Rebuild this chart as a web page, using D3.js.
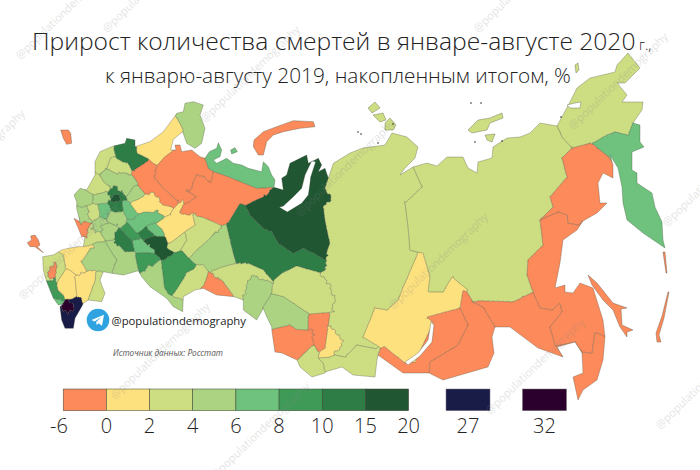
<!DOCTYPE html>
<html><head><meta charset="utf-8">
<script src="https://cdnjs.cloudflare.com/ajax/libs/d3/7.8.5/d3.min.js"></script>
<style>html,body{margin:0;background:#fff}svg{display:block}text{font-family:"Open Sans",sans-serif}</style>
</head><body><svg id="c" width="700" height="470"></svg>
<script>
const titleText="Прирост количества смертей в январе-августе 2020";
const titleSuffix=" г.,";
const subtitleText="к январю-августу 2019, накопленным итогом, %";
const handleText="@populationdemography";
const sourceText="Источник данных: Росстат";
const legendTicks=["-6","0","2","4","6","8","10","15","20"];
const legendClasses=[-3,1,3,5,7,9,12,18];
const outlierTicks=["27","32"];
const outlierValues=[27,32];
const classBreaks=[0,2,4,6,8,10,15,20,30];
const classColors=["#fd8a5a","#fde17e","#cddd82","#abd382","#6ec27d","#3f9a58","#2e7d47","#205632","#1a1c48","#2b002c"];

// Region outlines. West sheet is on a 3x grid, east sheet in picture units.
const westValues=[1,5,7,12,-2,-2,-2,5,3,1,1,3,7,12,7,7,12,18,18,7,9,9,5,3,-1,3,9,5,3,5,3,3,5,5,12,18,5,7,5,12,5,-1,5,5,3,5,3,5,1,3,-1,9,9,7,1,1,3,27,32];
const westShapes=[
"405,140 450,125 490,95 525,48 540,70 548,92 520,118 510,150 490,165 465,195 445,175 412,160",
"525,42 550,35 555,10 580,5 610,15 600,45 615,85 605,130 585,145 560,130 550,90 540,70",
"615,175 628,155 650,145 655,128 665,150 660,170 640,180 650,190 680,175 700,190 725,195 745,205 785,215 790,185 805,200 815,225 825,240 820,262 770,265 720,245 670,225 640,215 625,205",
"340,140 375,130 380,115 405,120 412,160 448,180 400,212 385,190 365,185 345,165",
"395,222 400,212 448,180 465,195 470,215 463,232 490,265 535,305 520,322 490,315 440,280 415,250",
"463,232 470,205 500,175 528,155 525,135 540,135 545,155 575,150 600,170 615,175 625,205 640,215 632,250 610,230 590,225 580,245 575,265 565,275 590,290 560,310 535,305 490,265",
"632,250 640,215 670,225 720,245 770,265 820,262 820,270 795,290 755,305 720,310 685,370 665,375 610,345 580,350 535,335 560,310 590,290 565,275 575,265 580,245 590,225 610,230",
"680,375 695,440 708,490 670,500 630,515 610,495 570,472 590,450 625,420 660,378",
"578,342 610,360 665,378 625,420 590,450 570,472 545,445 560,420 555,395 585,375",
"465,370 500,355 515,335 530,320 550,300 545,325 535,345 578,345 585,375 555,395 510,430 495,405 488,385",
"390,310 420,300 440,285 455,282 490,315 520,322 510,345 465,340 430,325 415,340",
"510,430 555,395 560,420 545,445 525,455 500,445",
"380,360 400,345 430,345 470,335 490,350 470,370 440,370 410,400 385,370",
"680,375 720,310 750,345 790,385 815,395 835,430 880,460 910,445 945,462 975,480 975,510 950,515 890,498 840,520 815,540 790,510 745,490 708,490 695,440",
"365,300 390,310 412,345 385,358 370,335",
"440,385 465,368 495,405 470,410 445,390",
"420,400 440,385 465,405 430,420",
"430,420 470,408 495,415 500,445 522,460 490,480 465,450 445,440",
"745,320 760,305 800,285 820,265 850,270 845,235 860,225 870,190 920,165 925,190 945,180 955,175 965,195 955,215 975,205 985,235 975,265 990,295 970,320 975,365 988,430 975,480 945,462 910,445 880,460 835,430 815,395 790,385 750,345",
"398,422 425,420 465,452 440,458 408,458",
"360,385 385,370 410,400 420,415 395,418 370,400",
"405,460 440,458 480,478 440,515 415,510",
"430,516 480,480 492,560 510,590 530,600 550,610 548,635 520,620 500,595 450,560 425,530",
"585,505 610,495 625,520 610,555 585,570 550,590 525,585 535,560 555,528",
"625,520 650,520 680,560 702,590 650,585 610,565",
"630,515 670,500 710,490 745,490 790,510 815,540 820,550 790,575 730,600 702,590 670,545",
"490,480 525,460 545,458 585,505 550,515 555,528 535,560 510,585 495,565 490,510",
"730,600 755,530 790,545 818,550 815,580 790,620 770,660 730,630",
"818,550 850,520 890,498 950,515 990,560 1000,600 995,635 925,640 895,620 850,590 815,580",
"790,620 815,582 850,590 895,620 925,640 925,690 870,675 815,680 800,650",
"285,185 300,155 340,135 345,165 330,175 320,205 295,225",
"320,205 335,170 365,185 385,190 395,225 370,230 345,220",
"300,225 320,205 345,220 395,225 415,250 405,255 380,290 360,275 330,262 310,245",
"222,285 240,265 265,275 280,285 275,310 245,320 230,305",
"320,285 340,262 370,280 378,295 365,305 370,335 345,335 330,320",
"333,293 355,290 360,302 335,302",
"380,290 405,255 432,285 390,305",
"295,315 310,310 330,320 325,350 310,355 295,335",
"280,285 320,275 330,300 310,310 280,310",
"345,400 360,385 395,425 398,450 375,455 345,425",
"325,340 370,335 380,362 360,385 325,365",
"222,355 240,352 270,375 255,410 245,410 235,385",
"230,325 260,320 275,350 270,365 240,365",
"285,360 310,355 325,370 320,385 295,395 280,385",
"262,320 280,312 295,318 298,340 285,360 270,355",
"308,380 325,368 355,378 345,400 345,420 320,420 305,405",
"260,270 285,225 300,225 310,245 330,262 320,275 280,285 265,275",
"245,485 280,430 315,425 350,480 335,520 300,510 260,510",
"185,450 205,445 220,455 235,440 250,440 280,435 245,485 258,515 240,530 215,505 195,500 190,470",
"128,470 160,465 190,465 197,500 185,520 170,545 145,540 130,510",
"143,525 160,500 168,490 165,510 160,530 150,535",
"140,545 165,540 172,570 160,570",
"155,575 172,570 195,590 185,600 165,595",
"160,595 185,600 190,610 175,615",
"175,545 200,512 225,530 230,590 215,595 195,592 175,570",
"225,530 240,525 258,515 285,515 285,540 265,595 250,610 240,590 230,590",
"290,515 310,520 300,540 305,555 315,580 305,605 265,600 285,545",
"180,620 200,605 215,600 230,590 245,595 245,620 225,655 220,685 195,685 185,660",
"182,617 205,603 222,625 205,635 190,630"
];
const midValues=[3,5];
const midShapes=[
"270,375 285,380 305,405 315,425 290,425 280,432 250,440 250,410",
"315,425 345,420 375,455 405,460 415,512 370,525 335,520 350,480"
];
const eastValues=[3,3,3,7,-2,-2,-2,-2,-2,-2,-2,1,-2,1,-2,3,3];
const eastShapes=[
"328,178 333,165 350,153 363,148 385,145 392,133 407,137 418,147 415,158 405,168 400,175 413,167 422,187 405,203 408,227 410,250 418,253 405,283 398,300 387,310 375,308 363,337 377,348 357,345 345,357 333,352 340,343 328,327 330,313 333,307 330,300 332,290 317,280 325,270 323,260 330,243 325,220 323,207 328,197 325,188",
"413,167 427,163 437,166 447,157 463,157 468,168 477,173 478,162 492,158 493,147 507,138 520,137 530,133 540,123 557,126 562,137 572,148 562,158 567,177 550,197 553,207 540,220 543,245 528,260 527,275 533,292 513,302 480,300 473,302 468,290 452,277 443,292 428,292 430,277 423,253 418,252 410,250 408,227 405,203 422,187",
"557,125 570,102 577,88 590,78 615,72 617,65 628,53 640,68 625,83 617,83 627,95 622,102 643,102 642,110 633,123 628,135 615,132 607,135 593,143 572,148 562,137",
"593,143 607,135 615,132 628,135 633,123 640,125 640,142 644,147 632,152 632,170 637,173 637,183 652,193 655,207 662,222 663,240 665,248 643,233 627,220 623,203 622,187 618,168 610,155 600,150",
"590,143 600,150 613,165 613,178 603,173 598,183 600,203 607,203 597,213 583,221 578,225 568,223 567,215 558,212 540,220 553,207 550,197 567,177 562,158 572,148",
"540,220 558,212 567,215 568,223 578,225 583,221 577,230 563,240 560,263 555,288 565,285 565,292 573,293 580,283 593,288 603,320 605,337 602,335 595,332 592,353 582,352 575,342 555,345 550,327 562,312 560,303 552,310 540,308 533,292 527,275 528,260 543,245",
"582,352 592,353 595,332 602,335 605,337 603,360 597,380 583,390 578,400 573,377 583,373",
"557,347 575,342 582,352 580,355 563,357",
"473,302 513,302 533,292 540,308 552,310 560,303 562,312 550,327 555,345 557,347 563,357 538,348 510,327 495,327 483,307",
"460,308 463,290 473,302 483,307 495,327 492,337 494,353 488,367 443,380 429,373 430,362 458,345 468,325",
"378,355 385,347 405,363 415,362 433,323 427,317 460,308 468,325 458,345 430,362 429,373 403,373",
"418,253 423,253 430,277 428,292 443,292 452,277 468,290 463,290 460,308 427,317 433,323 415,362 405,363 385,347 363,337 375,308 387,310 398,300 405,283",
"308,315 330,313 328,327 325,348 317,350 312,337 308,330",
"330,327 342,343 330,357 318,358 325,348 328,327",
"272,332 290,325 295,332 312,330 313,345 297,360 282,353 275,352",
"298,360 313,345 317,350 318,358 323,363 325,373 312,377 300,367",
"318,358 330,357 345,357 357,345 378,350 377,360 375,377 353,375 342,367 325,372 323,363"
];
// Coast of the mainland: west part on the grid, east part in picture units
const coastWest="285,185 300,155 340,138 375,130 380,115 405,120 405,140 450,125 490,95 525,48 530,40 550,35 555,10 580,5 610,15 600,45 615,85 605,130 585,145 560,130 548,95 520,118 512,150 528,150 525,135 540,135 545,155 575,150 600,170 615,175 628,155 650,145 655,128 665,150 660,170 640,180 650,190 680,175 700,190 725,195 745,205 785,215 790,185 805,200 815,225 825,240 822,262 850,270 845,235 860,225 870,190 920,165 925,190 945,180 955,175 965,195 955,215 975,205 985,235 1000,190";
const coastEast="350,153 363,148 385,145 392,133 407,137 418,147 415,158 405,168 400,175 413,167 427,163 437,166 447,157 463,157 468,168 477,173 478,162 492,158 493,147 507,138 520,137 530,133 540,123 557,126 570,102 577,88 590,78 615,72 617,65 628,53 640,68 625,83 617,83 627,95 622,102 643,102 642,110 633,123 640,125 640,142 644,147 632,152 632,170 637,173 637,183 652,193 655,207 662,222 663,240 665,248 643,233 627,220 623,203 622,187 618,168 610,155 613,165 613,178 603,173 598,183 600,203 607,203 597,213 583,221 577,230 563,240 560,263 555,288 565,285 565,292 573,293 580,283 593,288 603,320 605,337 603,360 597,380 583,390 578,400 573,377 583,373 582,353 575,342 557,347 563,357 538,348 510,327 495,327 492,337 494,353 488,367 443,380 429,373 403,373 378,355 377,360 375,377 353,375 342,367 325,372 325,373 312,377 300,367 297,360 282,353 275,352 272,332";
const coastSouth="815,680 800,650 790,625 770,660 730,630 730,600 702,590 650,585 610,565 585,570 550,590 548,635 520,620 500,595 450,560 425,530 415,512 370,525 335,520 310,515 300,540 305,555 315,580 305,605 265,600 250,610 245,620 225,655 220,685 195,685 185,660 180,620 190,612 175,615 160,595 140,545 130,510 128,470 160,465 185,450 205,445 235,440 250,440 255,410 245,410 235,385 222,355 240,365 230,325 230,305 222,285 240,265 260,270 285,225";
// Islands
const islandGridValues=[-1,-1,7,-3];
const islandGridShapes=[
"182,90 205,90 212,100 215,130 200,133 190,115",
"82,428 95,420 92,408 105,405 115,420 120,435 112,440 130,458 118,450 105,440 90,440",
"692,150 705,143 712,155 695,162",
"762,120 790,95 830,80 880,62 940,65 945,80 900,85 850,95 820,105 800,125 790,165 775,165 760,140"
];
const islandValues=[3,3,3,3,3,3,-2,-2,-2];
const islandShapes=[
"368,108 375,102 380,108 372,113",
"373,115 383,113 386,120 380,122",
"385,123 390,118 396,125 393,130 385,130",
"468,130 478,120 490,118 497,115 502,113 503,118 490,123 487,130 472,133",
"485,135 495,134 492,142 487,140",
"575,65 578,63 579,70 576,73",
"588,275 597,283 613,303 627,308 621,309 622,325 633,330 627,332 627,337 620,327 613,310 603,300 592,285",
"663,252 665,252 667,273 666,273",
"668,292 669,292 664,318 659,335 661,342 657,342 656,333 662,316"
];
const waterGrid=["838,322 862,336 905,310 925,285 930,250 932,232 947,185 935,183 915,225 905,265 880,290 850,318"];
const waterEast=["431,322 434,325 432,342 420,356 408,365 405,362 418,353 428,340","567,105 575,103 581,102 580,108 570,108"];
const arcticDots=[[393,124],[358,132],[361,134],[378,143],[471,103],[481,103],[502,141],[475,142],[561,117]];
const watermarkStarts=[[107,33],[205,123],[478,33],[573,130],[-70,207],[23,300],[115,400],[393,310],[490,415],[667,227],[215,480],[300,217],[660,430],[20,60]];

const svg=d3.select("#c");
const color=d3.scaleThreshold().domain(classBreaks).range(classColors);
const wx=d3.scaleLinear().domain([0,1050]).range([0,350]);
const wy=d3.scaleLinear().domain([0,780]).range([100,360]);
const parse=s=>s.trim().split(/\s+/).map(p=>p.split(",").map(Number));
const fromGrid=s=>parse(s).map(p=>[wx(p[0]),wy(p[1])]);
const closed=d3.line().curve(d3.curveLinearClosed);

const regions=[
 ...eastShapes.map((s,i)=>({poly:parse(s),v:eastValues[i]})),
 ...midShapes.map((s,i)=>({poly:fromGrid(s),v:midValues[i]})),
 ...westShapes.map((s,i)=>({poly:fromGrid(s),v:westValues[i]}))
];
// Sites: outline samples set just inside each region, plus an inner lattice;
// nearest-site cells then close the slivers between neighbouring outlines.
const sites=[],owner=[];
let nudgeIndex=0;
const addSite=(p,ri)=>{nudgeIndex++;sites.push([p[0]+((nudgeIndex*0.618034)%1-.5)*.12,p[1]+((nudgeIndex*0.754878)%1-.5)*.12]);owner.push(ri);};
const topAt=(p,from)=>{for(let k=regions.length-1;k>from;k--) if(d3.polygonContains(regions[k].poly,p)) return k; return -1;};
regions.forEach((r,ri)=>{
 const n=r.poly.length,sign=d3.polygonArea(r.poly)>0?-1:1;
 for(let i=0;i<n;i++){
  const a=r.poly[i],b=r.poly[(i+1)%n],L=Math.hypot(b[0]-a[0],b[1]-a[1]),m=Math.max(1,Math.round(L/2));
  const nx=-(b[1]-a[1])/L*sign*.7,ny=(b[0]-a[0])/L*sign*.7;
  for(let t=0;t<m;t++){const p=[a[0]+(b[0]-a[0])*t/m+nx,a[1]+(b[1]-a[1])*t/m+ny];
   if(d3.polygonContains(r.poly,p)&&topAt(p,ri)<0)addSite(p,ri);}
 }
 const xs=d3.extent(r.poly,d=>d[0]),ys=d3.extent(r.poly,d=>d[1]);
 for(let x=xs[0];x<xs[1];x+=5)for(let y=ys[0];y<ys[1];y+=5){
  if(d3.polygonContains(r.poly,[x,y])&&topAt([x,y],ri)<0)addSite([x,y],ri);
 }
});
const delaunay=d3.Delaunay.from(sites);
const vor=delaunay.voronoi([0,0,700,470]);
const cellPaths=regions.map(()=>[]);
sites.forEach((p,i)=>{const c=vor.renderCell(i);if(c)cellPaths[owner[i]].push(c);});
let borderPath="";
const H=delaunay.halfedges,T=delaunay.triangles,C=vor.circumcenters;
for(let e=0;e<H.length;e++){const f=H[e];if(f<e)continue;
 if(owner[T[e]]!==owner[T[f]]){
  const a=Math.floor(e/3)*2,b=Math.floor(f/3)*2;
  borderPath+=`M${C[a]},${C[a+1]}L${C[b]},${C[b+1]}`;
 }}
const coastPts=[...fromGrid(coastWest),...parse(coastEast),...fromGrid(coastSouth)];
svg.append("defs").append("clipPath").attr("id","land").append("path").attr("d",closed(coastPts));

const ink="#39412f";
const land=svg.append("g").attr("clip-path","url(#land)");
land.selectAll("path.r").data(regions).join("path").attr("class","r")
 .attr("d",(r,i)=>cellPaths[i].join("")).attr("fill",r=>color(r.v));
land.append("path").attr("d",borderPath).attr("fill","none").attr("stroke",ink).attr("stroke-width",.42).attr("stroke-opacity",.85);
svg.append("path").attr("d",closed(coastPts)).attr("fill","none").attr("stroke",ink).attr("stroke-width",.42).attr("stroke-opacity",.7);

const isl=svg.append("g").attr("stroke",ink).attr("stroke-width",.4).attr("stroke-opacity",.8);
isl.selectAll("path.g").data(islandGridShapes).join("path").attr("class","g").attr("d",s=>closed(fromGrid(s))).attr("fill",(s,i)=>color(islandGridValues[i]));
isl.selectAll("path.e").data(islandShapes).join("path").attr("class","e").attr("d",s=>closed(parse(s))).attr("fill",(s,i)=>color(islandValues[i]));
isl.selectAll("path.w").data(waterGrid).join("path").attr("class","w").attr("d",s=>closed(fromGrid(s))).attr("fill","#fff");
isl.selectAll("path.x").data(waterEast).join("path").attr("class","x").attr("d",s=>closed(parse(s))).attr("fill","#fff");
svg.append("g").selectAll("circle").data(arcticDots).join("circle").attr("cx",d=>d[0]).attr("cy",d=>d[1]).attr("r",.8).attr("fill","#222");

const title=svg.append("text").attr("x",32).attr("y",50).attr("font-size",24.6).attr("font-weight",300).attr("fill","#222");
title.append("tspan").text(titleText);
title.append("tspan").attr("font-size",14).text(titleSuffix);
svg.append("text").attr("x",105).attr("y",83).attr("font-size",20.8).attr("font-weight",300).attr("fill","#222").text(subtitleText);

const tick=d3.scalePoint().domain(legendTicks).range([63.2,408.6]);
const leg=svg.append("g");
leg.selectAll("rect.c").data(legendClasses).join("rect").attr("class","c")
 .attr("x",(d,i)=>tick(legendTicks[i])).attr("y",389).attr("width",(d,i)=>tick(legendTicks[i+1])-tick(legendTicks[i])).attr("height",21.7)
 .attr("fill",d=>color(d)).attr("stroke",ink).attr("stroke-width",.5);
leg.selectAll("text.t").data(legendTicks).join("text").attr("class","t")
 .attr("x",d=>d==="-6"?59:tick(d)).attr("y",433).attr("text-anchor","middle").attr("font-size",20).attr("font-weight",300).attr("fill","#222").text(d=>d);
const out=d3.scalePoint().domain(outlierTicks).range([468,544.5]);
leg.selectAll("rect.o").data(outlierTicks).join("rect").attr("class","o")
 .attr("x",d=>out(d)-22).attr("y",389).attr("width",44).attr("height",21.7).attr("fill",(d,i)=>color(outlierValues[i])).attr("stroke","#777").attr("stroke-width",.5);
leg.selectAll("text.u").data(outlierTicks).join("text").attr("class","u")
 .attr("x",d=>out(d)).attr("y",433).attr("text-anchor","middle").attr("font-size",20).attr("font-weight",300).attr("fill","#222").text(d=>d);

const ic=svg.append("g").attr("transform","translate(98,320)");
ic.append("circle").attr("r",11.3).attr("fill","#2ea3e0");
ic.append("path").attr("d","M-6.5,0 L6,-5.2 L4,5.8 L0.6,3.2 L-1.4,5 L-1.8,2 L3.4,-3 L-3.4,1.4 Z").attr("fill","#fff");
svg.append("text").attr("x",111.5).attr("y",324.5).attr("font-size",11.3).attr("fill","#222").text(handleText);
svg.append("text").attr("x",113).attr("y",356).attr("font-size",8.2).attr("font-style","italic").attr("fill","#555").text(sourceText);

svg.append("g").selectAll("text").data(watermarkStarts).join("text")
 .attr("transform",d=>`translate(${d[0]},${d[1]}) rotate(-44)`).attr("font-size",11.2).attr("fill","#888").attr("opacity",.22).text(handleText);
</script></body></html>
